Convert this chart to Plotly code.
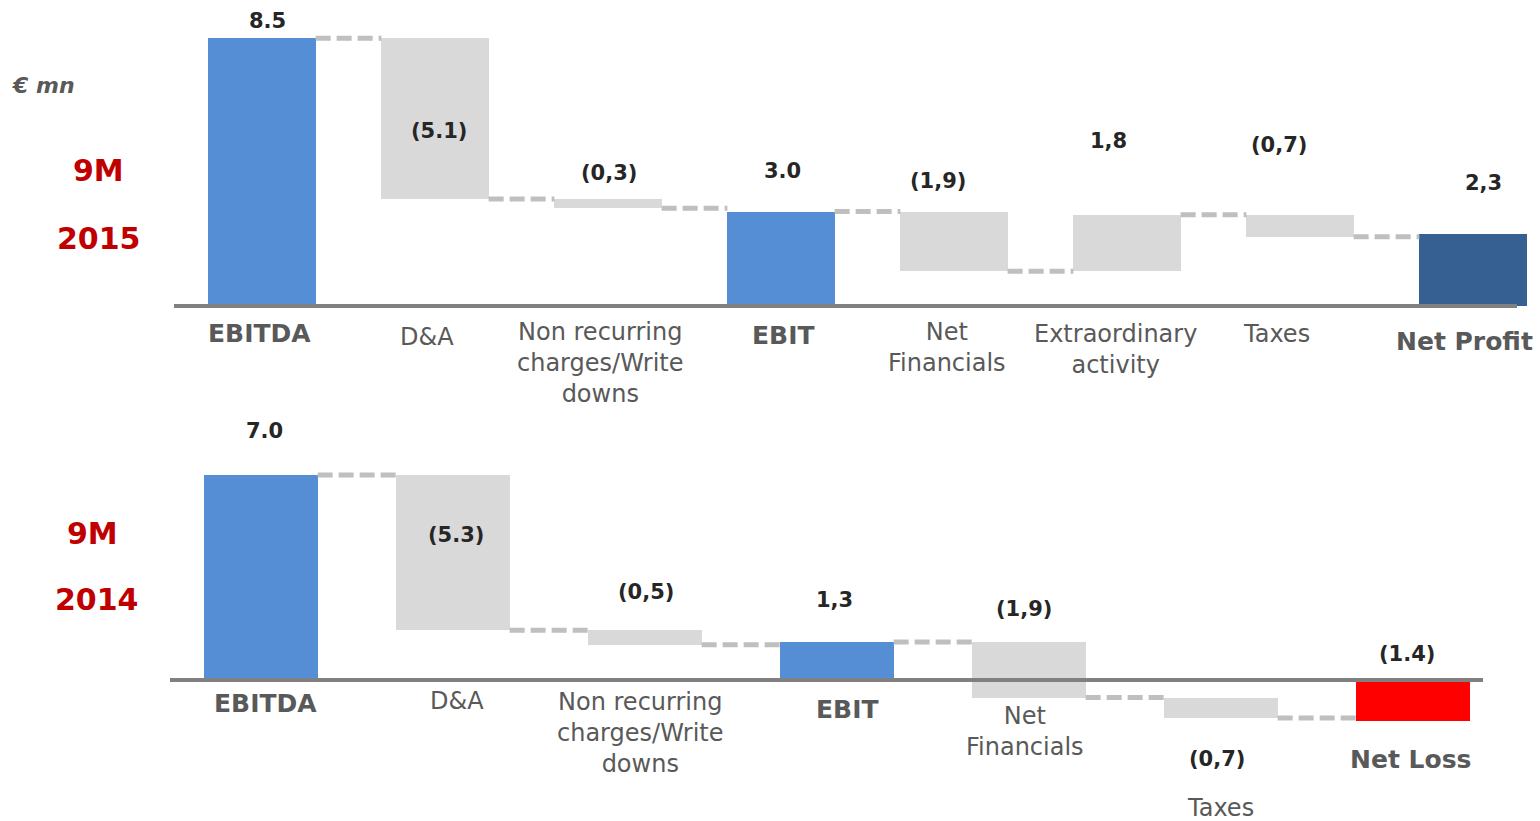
import plotly.graph_objects as go

# ---------------- data ----------------
top_categories = ["EBITDA", "D&A", "Non recurring<br>charges/Write<br>downs", "EBIT",
                  "Net<br>Financials", "Extraordinary<br>activity", "Taxes", "Net Profit"]
top_values = [8.5, -5.1, -0.3, 3.0, -1.9, 1.8, -0.7, 2.3]
top_kinds = ["total", "delta", "delta", "total", "delta", "delta", "delta", "total"]
top_value_text = ["8.5", "(5.1)", "(0,3)", "3.0", "(1,9)", "1,8", "(0,7)", "2,3"]

bottom_categories = ["EBITDA", "D&A", "Non recurring<br>charges/Write<br>downs", "EBIT",
                     "Net<br>Financials", "Taxes", "Net Loss"]
bottom_values = [7.0, -5.3, -0.5, 1.3, -1.9, -0.7, -1.4]
bottom_kinds = ["total", "delta", "delta", "total", "delta", "delta", "total"]
bottom_value_text = ["7.0", "(5.3)", "(0,5)", "1,3", "(1,9)", "(0,7)", "(1.4)"]

# ---------------- styles ----------------
W, H = 1540, 821
BLUE = "#558ED5"
GREY = "#D9D9D9"
NAVY = "#366092"
RED = "#FF0000"
CONN = "#BFBFBF"
AXIS = "#808080"
LABEL = "#595959"
VALUE = "#262626"
DARKRED = "#C00000"
FONT = "DejaVu Sans"

top_colors = [BLUE, GREY, GREY, BLUE, GREY, GREY, GREY, NAVY]
bottom_colors = [BLUE, GREY, GREY, BLUE, GREY, GREY, RED]
top_bold = [True, False, False, True, False, False, False, True]
bottom_bold = [True, False, False, True, False, False, True]

# label positions (pixels) for category names and value labels
top_cat_pos = [(259, 333), (427, 337), (600, 363), (783, 336), (947, 347), (1115, 349), (1276, 334), (1464, 341)]
top_val_pos = [(267, 21), (439, 131), (609, 173), (782, 171), (938, 181), (1108, 141), (1279, 145), (1483, 183)]
bottom_cat_pos = [(265, 703), (457, 701), (640, 733), (847, 709), (1025, 731), (1220, 808), (1410, 759)]
bottom_val_pos = [(264, 431), (456, 535), (646, 592), (834, 600), (1024, 609), (1217, 759), (1407, 654)]

# axis geometry: value 0 pixel, pixels per unit, category-0 pixel, pixels per category
TOP_GEOM = dict(zero=306, ppu=31.5, c0=262, pps=173, width=0.62, line=(174, 1517), top=0, bottom=410)
BOT_GEOM = dict(zero=680, ppu=29.3, c0=261, pps=192, width=0.59, line=(170, 1483), top=410, bottom=H)


def waterfall_parts(values, kinds):
    bases, heights, levels = [], [], []
    level = 0.0
    for v, k in zip(values, kinds):
        if k == "total":
            bases.append(0.0)
            heights.append(v)
            level = v
        else:
            bases.append(level)
            heights.append(v)
            level += v
        levels.append(level)
    return bases, heights, levels


fig = go.Figure()


def add_chart(values, kinds, colors, xa, ya, g):
    n = len(values)
    idx = list(range(n))
    bases, heights, levels = waterfall_parts(values, kinds)
    w = g["width"]
    # dashed connectors between consecutive bars
    cx, cy = [], []
    for i in range(n - 1):
        cx += [i + w / 2, i + 1 - w / 2, None]
        cy += [levels[i], levels[i], None]
    fig.add_trace(go.Scatter(x=cx, y=cy, mode="lines", xaxis=xa, yaxis=ya,
                             line=dict(color=CONN, width=5, dash="15px,6px"),
                             hoverinfo="skip", showlegend=False))
    fig.add_trace(go.Bar(x=idx, y=heights, base=bases, width=w, xaxis=xa, yaxis=ya,
                         marker=dict(color=colors, line=dict(width=0)),
                         hoverinfo="skip", showlegend=False))
    # baseline
    x0 = (g["line"][0] - g["c0"]) / g["pps"]
    x1 = (g["line"][1] - g["c0"]) / g["pps"]
    fig.add_shape(type="line", xref=xa, yref=ya, x0=x0, x1=x1, y0=0, y1=0,
                  line=dict(color=AXIS, width=4), layer="above")


add_chart(top_values, top_kinds, top_colors, "x", "y", TOP_GEOM)
add_chart(bottom_values, bottom_kinds, bottom_colors, "x2", "y2", BOT_GEOM)


def axis_ranges(g):
    xr = [-g["c0"] / g["pps"], (W - g["c0"]) / g["pps"]]
    yr = [(g["zero"] - g["bottom"]) / g["ppu"], (g["zero"] - g["top"]) / g["ppu"]]
    dom = [1 - g["bottom"] / H, 1 - g["top"] / H]
    return xr, yr, dom


axis_style = dict(showgrid=False, zeroline=False, showticklabels=False, showline=False, ticks="")
xr, yr, dom = axis_ranges(TOP_GEOM)
fig.update_layout(xaxis=dict(range=xr, domain=[0, 1], anchor="y", **axis_style),
                  yaxis=dict(range=yr, domain=dom, anchor="x", **axis_style))
xr, yr, dom = axis_ranges(BOT_GEOM)
fig.update_layout(xaxis2=dict(range=xr, domain=[0, 1], anchor="y2", **axis_style),
                  yaxis2=dict(range=yr, domain=dom, anchor="x2", **axis_style))

annotations = []


def px_text(text, x, y, size, color, bold=False, italic=False):
    t = text
    if bold:
        t = "<b>" + t + "</b>"
    if italic:
        t = "<i>" + t + "</i>"
    annotations.append(dict(text=t, x=x / W, y=1 - y / H, xref="paper", yref="paper",
                            xanchor="center", yanchor="middle", showarrow=False,
                            align="center", font=dict(family=FONT, size=size, color=color)))


for cats, bolds, pos in [(top_categories, top_bold, top_cat_pos),
                         (bottom_categories, bottom_bold, bottom_cat_pos)]:
    for c, b, (x, y) in zip(cats, bolds, pos):
        px_text(c, x, y, 25 if b else 24, LABEL, bold=b)

for texts, pos in [(top_value_text, top_val_pos), (bottom_value_text, bottom_val_pos)]:
    for t, (x, y) in zip(texts, pos):
        px_text(t, x, y, 21, VALUE, bold=True)

# period headers and unit
px_text("9M", 99, 171, 30, DARKRED, bold=True)
px_text("2015", 99, 238, 30, DARKRED, bold=True)
px_text("9M", 92, 533, 30, DARKRED, bold=True)
px_text("2014", 97, 599, 30, DARKRED, bold=True)
annotations.append(dict(text="<b><i>€ mn</i></b>", x=10 / W, y=1 - 85 / H, xref="paper", yref="paper",
                        xanchor="left", yanchor="middle", showarrow=False,
                        font=dict(family=FONT, size=22, color=LABEL)))

fig.update_layout(annotations=annotations, width=W, height=H,
                  margin=dict(l=0, r=0, t=0, b=0, pad=0),
                  paper_bgcolor="white", plot_bgcolor="white",
                  bargap=0, showlegend=False)

fig.write_html("out.html", config={"displayModeBar": False})
